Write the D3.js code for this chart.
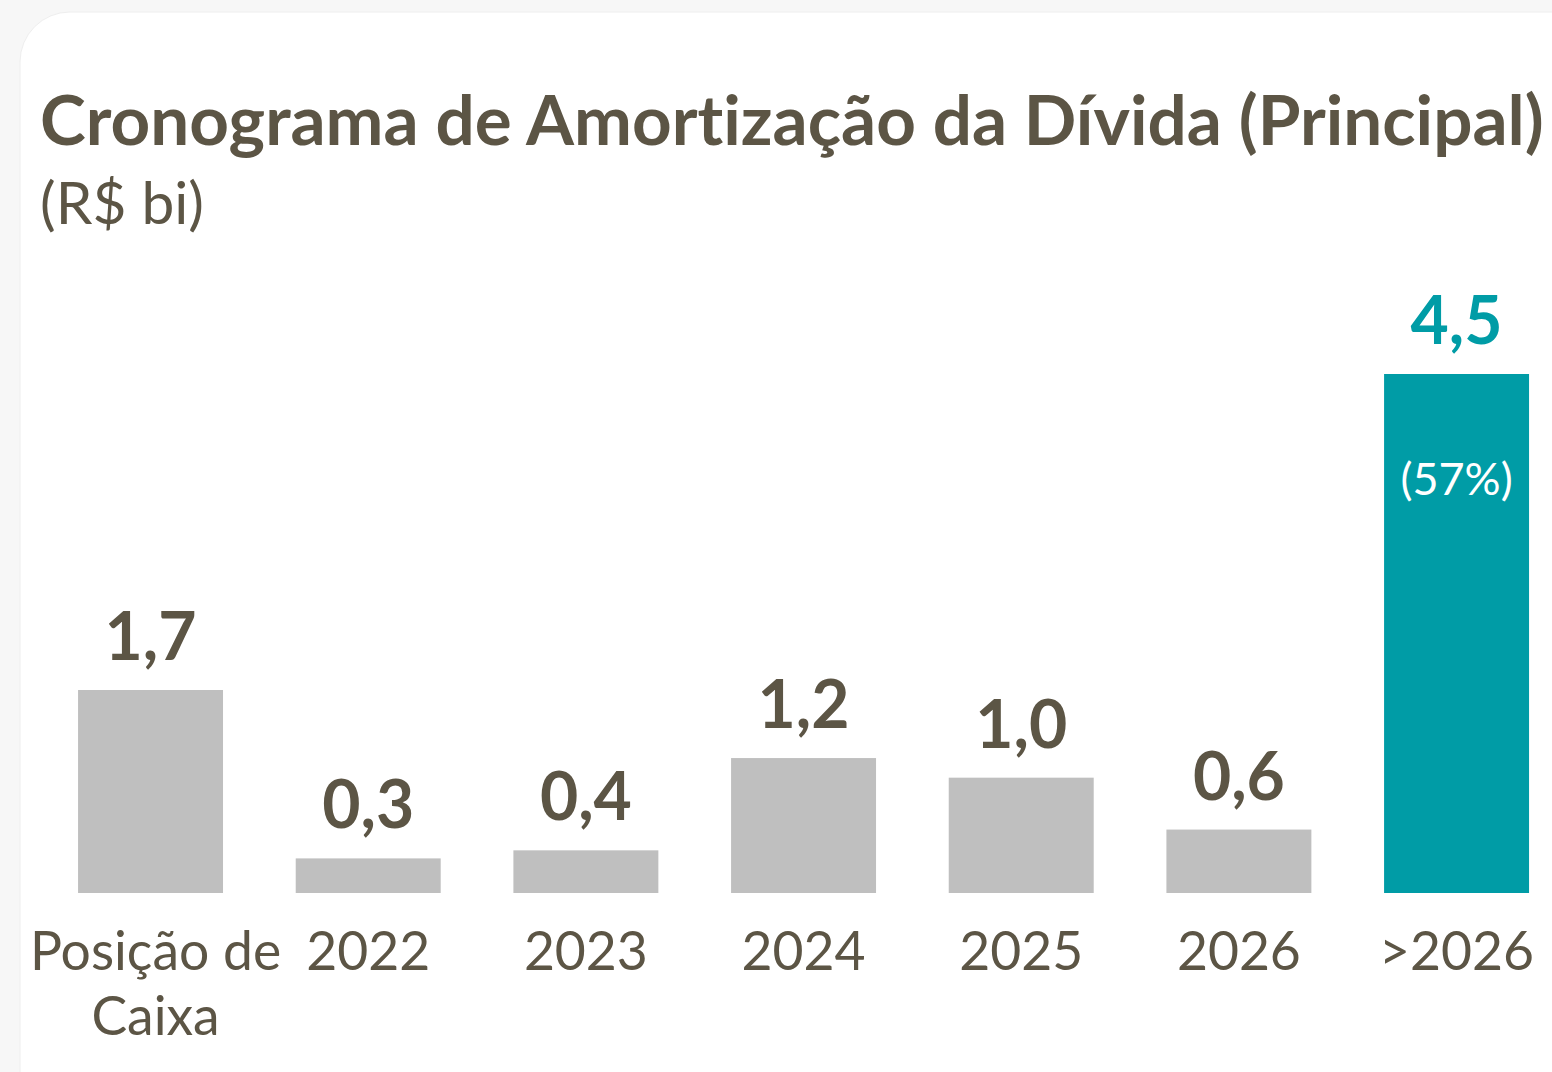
<!DOCTYPE html>
<html><head><meta charset="utf-8">
<script src="https://cdn.jsdelivr.net/npm/d3@7"></script>
<style>
html,body{margin:0;padding:0;background:#f7f7f7;overflow:hidden;}
svg{display:block;}
text{font-variant-ligatures:none;font-feature-settings:"liga" 0,"clig" 0;}
</style></head>
<body>
<script>
const titleText = "Cronograma de Amortização da Dívida (Principal)";
const subtitleText = "(R$ bi)";
const categories = ["Posição de Caixa", "2022", "2023", "2024", "2025", "2026", ">2026"];
const categoryLines = [["Posição de", "Caixa"], ["2022"], ["2023"], ["2024"], ["2025"], ["2026"], [">2026"]];
const values = [1.76, 0.30, 0.37, 1.17, 1.00, 0.55, 4.50];
const valueLabels = ["1,7", "0,3", "0,4", "1,2", "1,0", "0,6", "4,5"];
const highlight = [false, false, false, false, false, false, true];
const innerNotes = ["", "", "", "", "", "", "(57%)"];

const W = 1552, H = 1072;
const textColor = "#5c5545", grayBar = "#bfbfbf", teal = "#009ca6";
const font = "Lato, 'Open Sans', sans-serif";

const svg = d3.select("body").append("svg").attr("width", W).attr("height", H);
svg.append("rect").attr("width", W).attr("height", H).attr("fill", "#f7f7f7");
svg.append("rect").attr("x", 20).attr("y", 12).attr("width", W + 60).attr("height", H + 60)
  .attr("rx", 50).attr("fill", "#ffffff").attr("stroke", "#eeeeee").attr("stroke-width", 1);

function fit(sel, targetW) {
  const w = sel.node().getComputedTextLength();
  const fs = parseFloat(sel.attr("font-size"));
  sel.attr("font-size", fs * targetW / w);
}

const title = svg.append("text").attr("x", 40).attr("y", 145)
  .attr("font-family", font).attr("font-weight", 700).attr("font-size", 64)
  .attr("fill", textColor).text(titleText);
fit(title, 1504);

const sub = svg.append("text").attr("x", 40).attr("y", 224)
  .attr("font-family", font).attr("font-size", 50)
  .attr("fill", textColor).text(subtitleText);
fit(sub, 164);

const baseline = 893;
const x = d3.scaleBand().domain(categories).range([41.7, 1565.4]).paddingInner(0.334).paddingOuter(0.167);
const y = d3.scaleLinear().domain([0, 4.5]).range([baseline, 374]);

const g = svg.append("g");
g.selectAll("rect.bar").data(categories).join("rect").attr("class", "bar")
  .attr("x", d => x(d)).attr("width", x.bandwidth())
  .attr("y", (d, i) => y(values[i])).attr("height", (d, i) => baseline - y(values[i]))
  .attr("fill", (d, i) => highlight[i] ? teal : grayBar);

const vl = g.selectAll("text.val").data(categories).join("text").attr("class", "val")
  .attr("x", d => x(d) + x.bandwidth() / 2)
  .attr("y", (d, i) => y(values[i]) - 30)
  .attr("text-anchor", "middle").attr("font-family", font).attr("font-weight", 700)
  .attr("font-size", 60)
  .attr("fill", (d, i) => highlight[i] ? teal : textColor)
  .text((d, i) => valueLabels[i]);
const vw = vl.nodes()[0].getComputedTextLength();
vl.attr("font-size", 60 * 92 / vw);

g.selectAll("text.note").data(categories.filter((d, i) => innerNotes[i]))
  .join("text").attr("class", "note")
  .attr("x", d => x(d) + x.bandwidth() / 2).attr("y", 495)
  .attr("text-anchor", "middle").attr("font-family", font).attr("font-size", 45)
  .attr("fill", "#ffffff").text(d => innerNotes[categories.indexOf(d)]);

// x axis labels
const axis = d3.axisBottom(x).tickSize(0).tickFormat("");
const ax = svg.append("g").attr("transform", `translate(0,${baseline})`).call(axis);
ax.select(".domain").remove();
const lab = svg.append("g");
categories.forEach((c, i) => {
  const lines = categoryLines[i];
  const cx = i === 0 ? x(c) + x.bandwidth() / 2 + 5 : x(c) + x.bandwidth() / 2;
  lines.forEach((ln, j) => {
    lab.append("text").attr("class", "cat")
      .attr("x", cx).attr("y", 970 + j * 65)
      .attr("text-anchor", "middle").attr("font-family", font).attr("font-size", 56)
      .attr("fill", textColor).text(ln);
  });
});
const cats = lab.selectAll("text.cat");
const refW = cats.filter(function () { return this.textContent === "2023"; }).node().getComputedTextLength();
cats.attr("font-size", 56 * 124 / refW);
</script>
</body></html>
